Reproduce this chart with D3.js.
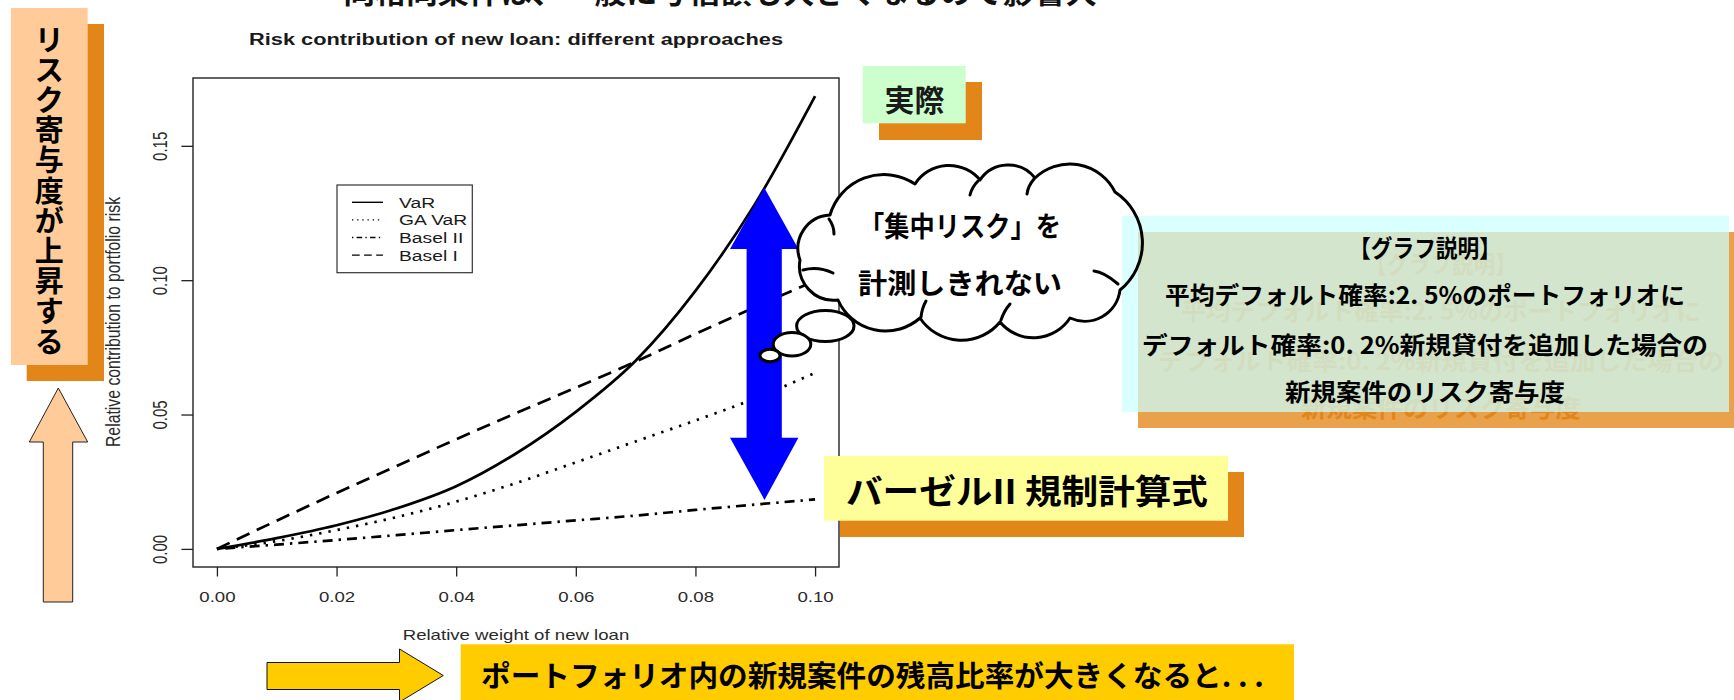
<!DOCTYPE html>
<html>
<head>
<meta charset="utf-8">
<script src="https://cdn.jsdelivr.net/npm/d3@7"></script>
<style>
  html, body { margin: 0; padding: 0; background: #ffffff; }
  svg { display: block; }
</style>
</head>
<body>
<script>
// ---- data -------------------------------------------------------------
// Relative weight of the new loan in the portfolio
const weights = [0, 0.01, 0.02, 0.03, 0.04, 0.05, 0.06, 0.07, 0.08, 0.09, 0.10];
// Relative contribution of the new loan to portfolio risk, per approach
const varValues    = [0, 0.0040, 0.0088, 0.0150, 0.0233, 0.0355, 0.0510, 0.0700, 0.0960, 0.1285, 0.1685];
const gaVarValues  = [0, 0.0029, 0.0070, 0.0118, 0.0176, 0.0245, 0.0322, 0.0400, 0.0478, 0.0560, 0.0655];
const basel2Values = [0, 0.0016, 0.0033, 0.0051, 0.0070, 0.0088, 0.0106, 0.0124, 0.0145, 0.0165, 0.0184];
const basel1Values = [0, 0.0105, 0.0208, 0.0308, 0.0408, 0.0505, 0.0600, 0.0697, 0.0800, 0.0900, 0.0998];
const seriesNames  = ["VaR", "GA VaR", "Basel II", "Basel I"];

const xTickValues = [0, 0.02, 0.04, 0.06, 0.08, 0.10];
const yTickValues = [0, 0.05, 0.10, 0.15];

const chartTitle = "Risk contribution of new loan: different approaches";
const xAxisTitle = "Relative weight of new loan";
const yAxisTitle = "Relative contribution to portfolio risk";

// annotation texts
const headerText   = "・同格同条件は、一般に与信額も大きくなるので影響大";
const riseLabel    = "リスク寄与度が上昇する";
const actualLabel  = "実際";
const baselLabel   = "バーゼルII 規制計算式";
const cloudLines   = ["「集中リスク」を", "計測しきれない"];
const noteLines    = ["【グラフ説明】",
                      "平均デフォルト確率:2. 5%のポートフォリオに",
                      "デフォルト確率:0. 2%新規貸付を追加した場合の",
                      "新規案件のリスク寄与度"];
const bottomLabel  = "ポートフォリオ内の新規案件の残高比率が大きくなると. . .";

// ---- setup ------------------------------------------------------------
const W = 1734, H = 700;
const JP = "'Noto Sans CJK JP', 'Noto Sans', sans-serif";
const RF = "'Liberation Sans', Arial, Helvetica, sans-serif";
const SHADOW = "#E3861A";
const SX = 1.33;   // horizontal stretch of the plot's lettering

const svg = d3.select("body").append("svg")
  .attr("width", W).attr("height", H)
  .attr("viewBox", `0 0 ${W} ${H}`);

svg.append("rect").attr("width", W).attr("height", H).attr("fill", "#ffffff");

// headline running off the top edge
svg.append("text")
  .attr("x", 312).attr("y", 3)
  .attr("font-family", JP).attr("font-weight", 700).attr("font-size", 30)
  .attr("textLength", 785).attr("lengthAdjust", "spacingAndGlyphs")
  .attr("fill", "#111")
  .text(headerText);

// ---- left vertical label + up arrow ----------------------------------
svg.append("rect").attr("x", 26.7).attr("y", 24).attr("width", 77.3).attr("height", 357).attr("fill", SHADOW);
svg.append("rect").attr("x", 11).attr("y", 8).attr("width", 76.7).attr("height", 357).attr("fill", "#FFCC99");
const riseChars = Array.from(riseLabel);
svg.append("g").selectAll("text").data(riseChars).join("text")
  .attr("x", 49.3)
  .attr("y", (d, i) => 37.5 + i * 30.2)
  .attr("text-anchor", "middle").attr("dominant-baseline", "central")
  .attr("font-family", JP).attr("font-weight", 700).attr("font-size", 29)
  .attr("fill", "#000")
  .text(d => d);

svg.append("path")
  .attr("d", "M58.3,388 L87.7,442 L72.7,442 L72.7,602 L43.3,602 L43.3,442 L29.3,442 Z")
  .attr("fill", "#FFCC99").attr("stroke", "#222").attr("stroke-width", 1);

// ---- chart ------------------------------------------------------------
const plot = { left: 193, right: 839, top: 78, bottom: 567 };

const xExt = d3.extent(weights);
const xPad = (xExt[1] - xExt[0]) * 0.04;
const x = d3.scaleLinear().domain([xExt[0] - xPad, xExt[1] + xPad]).range([plot.left, plot.right]);

const allVals = varValues.concat(gaVarValues, basel2Values, basel1Values);
const yExt = d3.extent(allVals);
const yPad = (yExt[1] - yExt[0]) * 0.04;
const y = d3.scaleLinear().domain([yExt[0] - yPad, yExt[1] + yPad]).range([plot.bottom, plot.top]);

// title
svg.append("text")
  .attr("transform", `translate(${(plot.left + plot.right) / 2},45) scale(${SX},1)`)
  .attr("text-anchor", "middle")
  .attr("font-family", RF).attr("font-weight", 700).attr("font-size", 16.4)
  .attr("fill", "#1a1a1a")
  .text(chartTitle);

// axes
const fmt = d3.format(".2f");
const xAxisG = svg.append("g")
  .attr("transform", `translate(0,${plot.bottom})`)
  .call(d3.axisBottom(x).tickValues(xTickValues).tickSize(9.5).tickFormat(fmt));
xAxisG.select(".domain").remove();
xAxisG.selectAll(".tick line").attr("stroke", "#222").attr("stroke-width", 1.3);
xAxisG.selectAll(".tick text")
  .attr("y", null).attr("dy", null)
  .attr("transform", `translate(0,35) scale(${SX},1)`)
  .attr("text-anchor", "middle")
  .attr("font-family", RF).attr("font-size", 14).attr("fill", "#2a2a2a");

const yAxisG = svg.append("g")
  .attr("transform", `translate(${plot.left},0)`)
  .call(d3.axisLeft(y).tickValues(yTickValues).tickSize(11.6).tickFormat(fmt));
yAxisG.select(".domain").remove();
yAxisG.selectAll(".tick line").attr("stroke", "#222").attr("stroke-width", 1.3);
yAxisG.selectAll(".tick text")
  .attr("x", null).attr("dy", null)
  .attr("transform", `translate(-26,0) scale(${SX},1) rotate(-90)`)
  .attr("text-anchor", "middle")
  .attr("font-family", RF).attr("font-size", 15).attr("fill", "#2a2a2a");

// axis titles
svg.append("text")
  .attr("transform", `translate(${(plot.left + plot.right) / 2},640) scale(${SX},1)`)
  .attr("text-anchor", "middle")
  .attr("font-family", RF).attr("font-size", 14).attr("fill", "#2a2a2a")
  .text(xAxisTitle);

svg.append("text")
  .attr("transform", `translate(120,322) scale(${SX},1) rotate(-90)`)
  .attr("text-anchor", "middle")
  .attr("font-family", RF).attr("font-size", 15.8).attr("fill", "#2a2a2a")
  .text(yAxisTitle);

// plot frame
svg.append("rect")
  .attr("x", plot.left).attr("y", plot.top)
  .attr("width", plot.right - plot.left).attr("height", plot.bottom - plot.top)
  .attr("fill", "none").attr("stroke", "#222").attr("stroke-width", 1.4);

// series
const series = [
  { name: seriesNames[0], values: varValues,    dash: null },
  { name: seriesNames[1], values: gaVarValues,  dash: "2.4,7" },
  { name: seriesNames[2], values: basel2Values, dash: "2.4,6,10,6" },
  { name: seriesNames[3], values: basel1Values, dash: "14,8" }
];

const line = d3.line()
  .x(d => x(d[0]))
  .y(d => y(d[1]))
  .curve(d3.curveMonotoneX);

svg.append("g").selectAll("path").data(series).join("path")
  .attr("d", s => line(weights.map((w, i) => [w, s.values[i]])))
  .attr("fill", "none")
  .attr("stroke", "#000")
  .attr("stroke-width", 2.7)
  .attr("stroke-dasharray", s => s.dash);

// legend
const legend = svg.append("g");
legend.append("rect")
  .attr("x", 337).attr("y", 185).attr("width", 135.3).attr("height", 87.7)
  .attr("fill", "#fff").attr("stroke", "#333").attr("stroke-width", 1.2);
const legRows = legend.selectAll("g.row").data(series).join("g")
  .attr("class", "row")
  .attr("transform", (d, i) => `translate(0,${202.3 + i * 17.6})`);
legRows.append("line")
  .attr("x1", 352).attr("x2", 383).attr("y1", 0).attr("y2", 0)
  .attr("stroke", "#000").attr("stroke-width", 1.4)
  .attr("stroke-dasharray", d => d.dash ? d.dash.split(",").map(v => +v * 0.55).join(",") : null);
legRows.append("text")
  .attr("transform", `translate(399,5.5) scale(${SX},1)`)
  .attr("font-family", RF).attr("font-size", 14.5).attr("fill", "#1a1a1a")
  .text(d => d.name);

// ---- blue double arrow -----------------------------------------------
svg.append("path")
  .attr("d", "M764.3,187.7 L798.4,249 L781.8,249 L781.8,437.7 L798.4,437.7 L764.5,500 L730,437.7 L746.6,437.7 L746.6,249 L730,249 Z")
  .attr("fill", "#0000FF");

// ---- thought cloud (fill) --------------------------------------------
const cloudPts = [[800,260],[830,215],[915,184],[980,180],[1035,178],[1115,192],[1120,290],[1070,318],[1000,322],[920,318],[838,300]];
function cloudPath(pts) {
  let d = `M${pts[0][0]},${pts[0][1]}`;
  for (let i = 0; i < pts.length; i++) {
    const a = pts[i], b = pts[(i + 1) % pts.length];
    const r = Math.hypot(b[0] - a[0], b[1] - a[1]) * 0.62;
    d += ` A${r.toFixed(1)},${r.toFixed(1)} 0 0 1 ${b[0]},${b[1]}`;
  }
  return d + " Z";
}
const cloudD = cloudPath(cloudPts);
svg.append("path").attr("d", cloudD).attr("fill", "#fff");

svg.append("g").selectAll("text").data(cloudLines).join("text")
  .attr("x", 960).attr("y", (d, i) => 225 + i * 57)
  .attr("text-anchor", "middle").attr("dominant-baseline", "central")
  .attr("font-family", JP).attr("font-weight", 700).attr("font-size", 28)
  .attr("textLength", (d, i) => i === 0 ? 202 : 204).attr("lengthAdjust", "spacingAndGlyphs")
  .attr("fill", "#000")
  .text(d => d);

// ---- 実際 box ----------------------------------------------------------
svg.append("rect").attr("x", 879).attr("y", 82).attr("width", 103).attr("height", 58).attr("fill", SHADOW);
svg.append("rect").attr("x", 862.7).attr("y", 66).attr("width", 103).attr("height", 57.3).attr("fill", "#CCFFCC");
svg.append("text")
  .attr("x", 914.5).attr("y", 98)
  .attr("text-anchor", "middle").attr("dominant-baseline", "central")
  .attr("font-family", JP).attr("font-weight", 700).attr("font-size", 30)
  .attr("fill", "#1a1a1a")
  .text(actualLabel);

// ---- explanation box ---------------------------------------------------
const noteY = [246, 293, 343, 390];
const noteW = [152, 520, 566, 280];
svg.append("rect").attr("x", 1138).attr("y", 232).attr("width", 610).attr("height", 196)
  .attr("fill", SHADOW).attr("fill-opacity", 0.78);
svg.append("g").selectAll("text").data(noteLines).join("text")
  .attr("x", 1425 + 16).attr("y", (d, i) => noteY[i] + 16)
  .attr("text-anchor", "middle").attr("dominant-baseline", "central")
  .attr("font-family", JP).attr("font-weight", 700).attr("font-size", 24)
  .attr("textLength", (d, i) => noteW[i]).attr("lengthAdjust", "spacingAndGlyphs")
  .attr("fill", SHADOW)
  .text(d => d);
svg.append("rect").attr("x", 1122).attr("y", 216).attr("width", 607).attr("height", 196)
  .attr("fill", "#CCFFFF").attr("fill-opacity", 0.72);
svg.append("g").selectAll("text").data(noteLines).join("text")
  .attr("x", 1425).attr("y", (d, i) => noteY[i])
  .attr("text-anchor", "middle").attr("dominant-baseline", "central")
  .attr("font-family", JP).attr("font-weight", 700).attr("font-size", 24)
  .attr("textLength", (d, i) => noteW[i]).attr("lengthAdjust", "spacingAndGlyphs")
  .attr("fill", "#000")
  .text(d => d);

// ---- thought cloud (outline, creases) + bubbles ------------------------
svg.append("path").attr("d", cloudD)
  .attr("fill", "none").attr("stroke", "#000").attr("stroke-width", 3).attr("stroke-linejoin", "round");

const creases = [
  "M803,270 Q818,266 833,273",
  "M829,219 Q834,226 834,234",
  "M978,181 Q972,187 970,195",
  "M1034,179 Q1028,186 1027,194",
  "M1118,284 Q1104,272 1094,271",
  "M1001,320 Q1004,311 1010,304",
  "M921,317 Q922,308 926,301"
];
svg.append("g").selectAll("path").data(creases).join("path")
  .attr("d", d => d)
  .attr("fill", "none").attr("stroke", "#000").attr("stroke-width", 3).attr("stroke-linecap", "round");

const bubbles = [
  { cx: 825.3, cy: 326, rx: 28.7, ry: 15.5 },
  { cx: 792,   cy: 344.3, rx: 18.8, ry: 11.7 },
  { cx: 770,   cy: 355.5, rx: 10,   ry: 6.2 }
];
svg.append("g").selectAll("ellipse").data(bubbles).join("ellipse")
  .attr("cx", d => d.cx).attr("cy", d => d.cy).attr("rx", d => d.rx).attr("ry", d => d.ry)
  .attr("fill", "#fff").attr("stroke", "#000").attr("stroke-width", 3);

// ---- Basel II label ----------------------------------------------------
svg.append("rect").attr("x", 840).attr("y", 472).attr("width", 404).attr("height", 65).attr("fill", SHADOW);
svg.append("rect").attr("x", 824).attr("y", 456).attr("width", 404).attr("height", 64.7).attr("fill", "#FFFF99");
svg.append("text")
  .attr("x", 846).attr("y", 489)
  .attr("dominant-baseline", "central")
  .attr("font-family", JP).attr("font-weight", 700).attr("font-size", 34)
  .attr("textLength", 362).attr("lengthAdjust", "spacingAndGlyphs")
  .attr("fill", "#000")
  .text(baselLabel);

// ---- bottom arrow + caption -------------------------------------------
svg.append("path")
  .attr("d", "M267,662.5 L399.5,662.5 L399.5,649 L443.3,675.5 L399.5,702 L399.5,689.5 L267,689.5 Z")
  .attr("fill", "#FFCC00").attr("stroke", "#111").attr("stroke-width", 1);
svg.append("rect").attr("x", 460.7).attr("y", 644.3).attr("width", 833.3).attr("height", 60).attr("fill", "#FFCC00");
svg.append("text")
  .attr("x", 481).attr("y", 673.5)
  .attr("dominant-baseline", "central")
  .attr("font-family", JP).attr("font-weight", 700).attr("font-size", 29)
  .attr("textLength", 783).attr("lengthAdjust", "spacingAndGlyphs")
  .attr("fill", "#000")
  .text(bottomLabel);
</script>
</body>
</html>
